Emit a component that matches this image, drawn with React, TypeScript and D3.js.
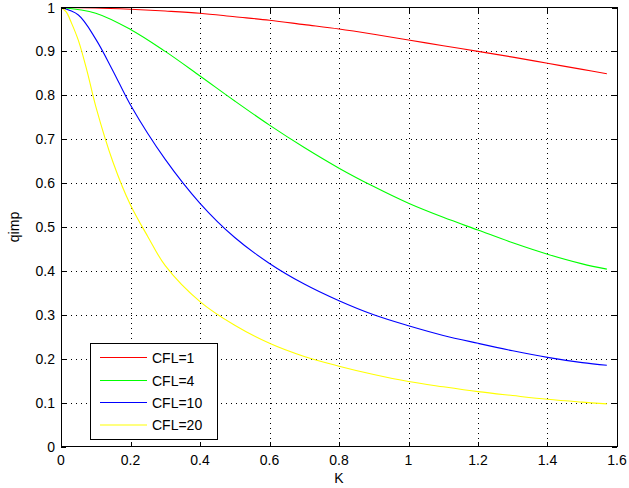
import React from "react";
import * as d3 from "d3";

const xTicks = [0, 0.2, 0.4, 0.6, 0.8, 1, 1.2, 1.4, 1.6];
const yTicks = [0, 0.1, 0.2, 0.3, 0.4, 0.5, 0.6, 0.7, 0.8, 0.9, 1];

const seriesNames = ["CFL=1", "CFL=4", "CFL=10", "CFL=20"];
const seriesColors = ["#ff0000", "#00ff00", "#0000ff", "#ffff00"];

const kCFL1 = [0, 0.1, 0.2, 0.3, 0.4, 0.5, 0.6, 0.7, 0.8, 0.9, 1.0, 1.1, 1.2, 1.3, 1.4, 1.5, 1.5708];
const qCFL1 = [1, 0.999, 0.996, 0.992, 0.987, 0.979, 0.971, 0.961, 0.951, 0.939, 0.926, 0.913, 0.9, 0.887, 0.873, 0.859, 0.849];

const kCFL4 = [0, 0.1, 0.2, 0.3, 0.4, 0.5, 0.6, 0.7, 0.8, 0.9, 1.0, 1.1, 1.2, 1.3, 1.4, 1.5, 1.5708];
const qCFL4 = [1, 0.987, 0.95, 0.9, 0.844, 0.787, 0.732, 0.681, 0.634, 0.592, 0.554, 0.522, 0.493, 0.464, 0.438, 0.416, 0.404];

const kCFL10 = [0, 0.05, 0.1, 0.15, 0.2, 0.3, 0.4, 0.5, 0.6, 0.7, 0.8, 0.9, 1.0, 1.1, 1.2, 1.3, 1.4, 1.5, 1.5708];
const qCFL10 = [1, 0.983, 0.928, 0.855, 0.778, 0.654, 0.554, 0.476, 0.417, 0.37, 0.332, 0.3, 0.275, 0.253, 0.235, 0.218, 0.203, 0.191, 0.185];

const kCFL20 = [0, 0.015, 0.03, 0.05, 0.075, 0.1, 0.15, 0.2, 0.25, 0.3, 0.4, 0.5, 0.6, 0.7, 0.8, 0.9, 1.0, 1.1, 1.2, 1.3, 1.4, 1.5, 1.5708];
const qCFL20 = [1, 0.99, 0.965, 0.925, 0.855, 0.775, 0.647, 0.55, 0.478, 0.412, 0.33, 0.276, 0.235, 0.205, 0.183, 0.164, 0.148, 0.136, 0.125, 0.116, 0.1075, 0.101, 0.097];

const seriesK = [kCFL1, kCFL4, kCFL10, kCFL20];
const seriesQ = [qCFL1, qCFL4, qCFL10, qCFL20];

export default function App() {
  const W = 629;
  const H = 488;
  const left = 61, right = 617, top = 7.5, bottom = 446.5;
  const x = d3.scaleLinear().domain([0, 1.6]).range([left, right]);
  const y = d3.scaleLinear().domain([0, 1]).range([bottom, top]);
  const line = d3
    .line<[number, number]>()
    .x((d) => x(d[0]))
    .y((d) => y(d[1]))
    .curve(d3.curveCatmullRom.alpha(0.5));
  const font = "'Liberation Sans', Arial, Helvetica, sans-serif";
  const tl = 5;

  const legX = 90, legY = 343, legW = 127, legH = 96;
  const rowY = [357.5, 380.5, 402.5, 425];

  return (
    <svg
      width={W}
      height={H}
      style={{ position: "absolute", left: 0, top: 0, background: "#fff" }}
      fontFamily={font}
    >
      <rect x={0} y={0} width={W} height={H} fill="#fff" />
      {/* grid */}
      <g stroke="#000" strokeWidth={1} strokeDasharray="1,4" shapeRendering="crispEdges">
        {xTicks.slice(1, -1).map((t) => (
          <line key={"gx" + t} x1={Math.round(x(t)) + 0.5} x2={Math.round(x(t)) + 0.5} y1={top} y2={bottom} />
        ))}
        {yTicks.slice(1, -1).map((t) => (
          <line key={"gy" + t} x1={left} x2={right} y1={Math.round(y(t)) + 0.5} y2={Math.round(y(t)) + 0.5} />
        ))}
      </g>
      {/* curves */}
      {seriesK.map((ks, i) => (
        <path
          key={"s" + i}
          d={line(ks.map((k, j) => [k, seriesQ[i][j]] as [number, number])) || ""}
          fill="none"
          stroke={seriesColors[i]}
          strokeWidth={1.1}
        />
      ))}
      {/* axes box & ticks */}
      <g stroke="#000" strokeWidth={1} shapeRendering="crispEdges">
        <rect x={left} y={top} width={right - left} height={bottom - top} fill="none" />
        {xTicks.map((t) => {
          const px = Math.round(x(t)) + 0.5;
          return (
            <g key={"tx" + t}>
              <line x1={px} x2={px} y1={bottom} y2={bottom - tl} />
              <line x1={px} x2={px} y1={top} y2={top + tl} />
            </g>
          );
        })}
        {yTicks.map((t) => {
          const py = Math.round(y(t)) + 0.5;
          return (
            <g key={"ty" + t}>
              <line x1={left} x2={left + tl} y1={py} y2={py} />
              <line x1={right} x2={right - tl} y1={py} y2={py} />
            </g>
          );
        })}
      </g>
      {/* tick labels */}
      <g fontSize={14} fill="#000">
        {xTicks.map((t) => (
          <text key={"lx" + t} x={x(t)} y={465} textAnchor="middle">
            {d3.format("")(t)}
          </text>
        ))}
        {yTicks.map((t) => (
          <text key={"ly" + t} x={55} y={y(t) + 5} textAnchor="end">
            {d3.format("")(t)}
          </text>
        ))}
      </g>
      {/* axis labels */}
      <text x={(left + right) / 2} y={483} textAnchor="middle" fontSize={14}>
        K
      </text>
      <text
        transform={`translate(19, ${(top + bottom) / 2}) rotate(-90)`}
        textAnchor="middle"
        fontSize={14}
      >
        qimp
      </text>
      {/* legend */}
      <rect
        x={legX + 0.5}
        y={legY + 0.5}
        width={legW}
        height={legH}
        fill="#fff"
        stroke="#000"
        strokeWidth={1}
        shapeRendering="crispEdges"
      />
      {seriesNames.map((n, i) => (
        <g key={"leg" + i}>
          <line x1={100} x2={147} y1={rowY[i]} y2={rowY[i]} stroke={seriesColors[i]} strokeWidth={1.1} />
          <text x={152} y={rowY[i] + 5} fontSize={14}>
            {n}
          </text>
        </g>
      ))}
    </svg>
  );
}
